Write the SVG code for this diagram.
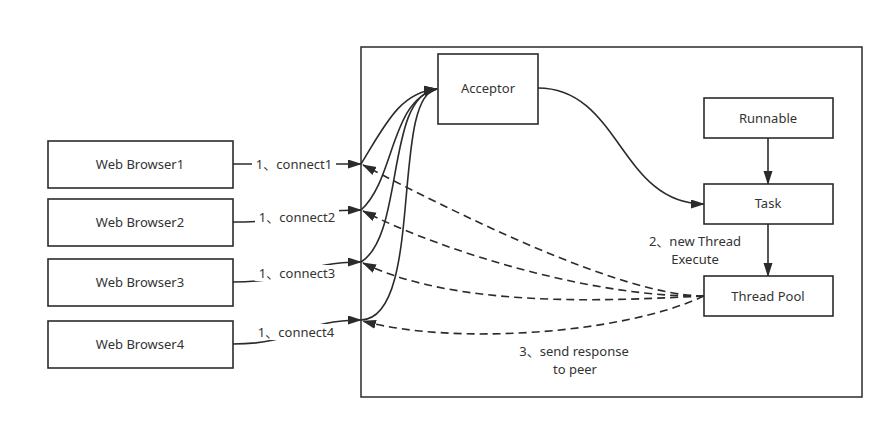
<svg xmlns="http://www.w3.org/2000/svg" width="894" height="429" viewBox="0 0 894 429">
<style>
.box{fill:#fff;stroke:#2b2b2b;stroke-width:1.6}
.frame{fill:none;stroke:#2b2b2b;stroke-width:1.5}
.lbl{font-family:"Noto Sans","Noto Sans CJK SC",sans-serif;font-size:13px;fill:#333;text-anchor:middle;dominant-baseline:central}
.e{fill:none;stroke:#2b2b2b;stroke-width:1.6;marker-end:url(#ah)}
.d{fill:none;stroke:#2b2b2b;stroke-width:1.6;stroke-dasharray:8 5;marker-end:url(#ah)}
.bg{fill:#fff}
</style>
<defs>
<marker id="ah" markerUnits="userSpaceOnUse" markerWidth="14" markerHeight="10" refX="13" refY="4.5" orient="auto">
<path d="M0,0 L14,4.5 L0,9 Z" fill="#2b2b2b" stroke="none"/>
</marker>
</defs>
<rect class="frame" x="361" y="47" width="501" height="350"/>
<g id="connectors">
<path class="e" d="M233,164 L361,164"/>
<path class="e" d="M233,222 C300,222 300,210 361,210"/>
<path class="e" d="M233,282 C300,282 300,262 361,262"/>
<path class="e" d="M233,344 C300,344 300,320 361,320"/>
<path class="e" d="M361,164 C385,125 400,92 437,89"/>
<path class="e" d="M361,210 C395,180 390,100 437,89"/>
<path class="e" d="M361,262 C405,235 385,95 437,89"/>
<path class="e" d="M361,320 C425,318 390,95 437,89"/>
<path class="e" d="M538,88 C620,88 620,204 704,204"/>
<path class="e" d="M768,138 L768,184"/>
<path class="e" d="M768,224 L768,276"/>
<path class="d" d="M704,296 C620,296 450,210 363,165"/>
<path class="d" d="M704,296 C600,298 450,255 363,211"/>
<path class="d" d="M704,296 C620,300 460,310 363,263"/>
<path class="d" d="M704,296 C620,335 450,345 363,321"/>
<rect class="bg" x="252" y="156" width="84" height="16"/>
<text class="lbl" x="294" y="164">1、connect1</text>
<rect class="bg" x="255" y="209" width="84" height="16"/>
<text class="lbl" x="297" y="217">1、connect2</text>
<rect class="bg" x="255" y="265" width="84" height="16"/>
<text class="lbl" x="297" y="273">1、connect3</text>
<rect class="bg" x="254" y="324" width="84" height="16"/>
<text class="lbl" x="296" y="332">1、connect4</text>
<text class="lbl" x="695" y="241">2、new Thread</text>
<text class="lbl" x="695" y="259">Execute</text>
<text class="lbl" x="574" y="351">3、send response</text>
<text class="lbl" x="575" y="369">to peer</text>
</g>
<g id="wb1"><rect class="box" x="48" y="141" width="185" height="47"/><text class="lbl" x="140" y="164">Web Browser1</text></g>
<g id="wb2"><rect class="box" x="48" y="199" width="185" height="47"/><text class="lbl" x="140" y="222">Web Browser2</text></g>
<g id="wb3"><rect class="box" x="48" y="259" width="185" height="47"/><text class="lbl" x="140" y="282">Web Browser3</text></g>
<g id="wb4"><rect class="box" x="48" y="321" width="185" height="47"/><text class="lbl" x="140" y="344">Web Browser4</text></g>
<g id="acceptor"><rect class="box" x="438" y="54" width="100" height="70"/><text class="lbl" x="488" y="88">Acceptor</text></g>
<g id="runnable"><rect class="box" x="704" y="98" width="129" height="40"/><text class="lbl" x="768" y="118">Runnable</text></g>
<g id="task"><rect class="box" x="704" y="184" width="129" height="40"/><text class="lbl" x="768" y="203">Task</text></g>
<g id="threadpool"><rect class="box" x="704" y="276" width="129" height="40"/><text class="lbl" x="768" y="296">Thread Pool</text></g>
</svg>
